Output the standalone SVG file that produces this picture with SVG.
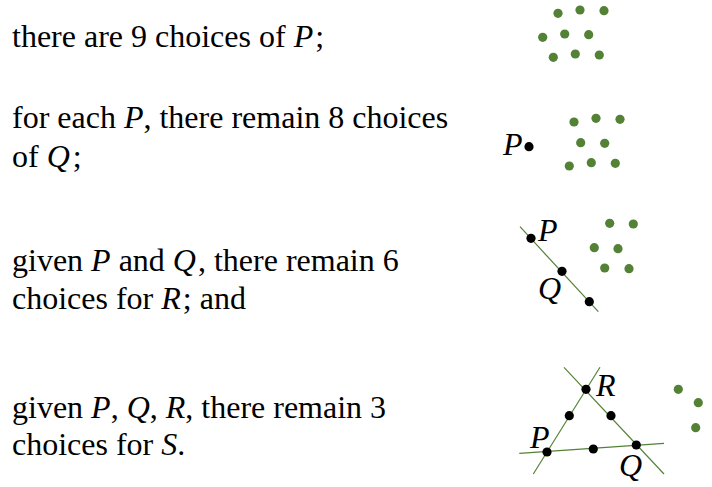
<svg xmlns="http://www.w3.org/2000/svg" width="712" height="487" viewBox="0 0 712 487">
<style>
.t{font-family:"Liberation Serif","Times New Roman",serif;font-size:32px;fill:#000}
.m{font-style:italic}
.lbl{font-family:"Liberation Serif","Times New Roman",serif;font-style:italic;font-size:32px;fill:#000}
.g{fill:#538135}
.b{fill:#000}
.ln{stroke:#538135;stroke-width:1.2;fill:none}
</style>
<rect width="712" height="487" fill="#fff"/>
<g id="text">
<text class="t" x="12" y="47">there are 9 choices of <tspan class="m">P</tspan><tspan dx="2">;</tspan></text>
<text class="t" x="12" y="128">for each <tspan class="m">P</tspan>, there remain 8 choices</text>
<text class="t" x="12" y="167">of <tspan class="m">Q</tspan><tspan dx="3">;</tspan></text>
<text class="t" x="12" y="271">given <tspan class="m">P</tspan> and <tspan class="m">Q</tspan><tspan dx="2">, there remain 6</tspan></text>
<text class="t" x="12" y="309">choices for <tspan class="m">R</tspan><tspan dx="2">; and</tspan></text>
<text class="t" x="12" y="418">given <tspan class="m">P</tspan>, <tspan class="m">Q</tspan>, <tspan class="m">R</tspan>, there remain 3</text>
<text class="t" x="12" y="455">choices for <tspan class="m">S</tspan>.</text>
</g>
<g id="panel1">
<circle class="g" cx="558" cy="13.3" r="4.6"/>
<circle class="g" cx="580" cy="10" r="4.6"/>
<circle class="g" cx="604" cy="10.7" r="4.6"/>
<circle class="g" cx="542.7" cy="37.3" r="4.6"/>
<circle class="g" cx="564.7" cy="34" r="4.6"/>
<circle class="g" cx="588.7" cy="34.7" r="4.6"/>
<circle class="g" cx="553.3" cy="57.3" r="4.6"/>
<circle class="g" cx="575.3" cy="54" r="4.6"/>
<circle class="g" cx="599.3" cy="55" r="4.6"/>
</g>
<g id="panel2">
<circle class="b" cx="529" cy="146.7" r="4.6"/>
<text class="lbl" x="503" y="155">P</text>
<circle class="g" cx="574" cy="122" r="4.6"/>
<circle class="g" cx="596" cy="118.3" r="4.6"/>
<circle class="g" cx="620" cy="119.3" r="4.6"/>
<circle class="g" cx="580.7" cy="142.7" r="4.6"/>
<circle class="g" cx="604.7" cy="143.3" r="4.6"/>
<circle class="g" cx="569.3" cy="166" r="4.6"/>
<circle class="g" cx="591.3" cy="162.7" r="4.6"/>
<circle class="g" cx="615.3" cy="163.3" r="4.6"/>
</g>
<g id="panel3">
<line class="ln" x1="520" y1="226.7" x2="598.3" y2="311.7"/>
<circle class="b" cx="531" cy="238.3" r="4.6"/>
<circle class="b" cx="562" cy="271.3" r="4.6"/>
<circle class="b" cx="589.3" cy="301.7" r="4.6"/>
<text class="lbl" x="538" y="241">P</text>
<text class="lbl" x="538" y="299">Q</text>
<circle class="g" cx="609.7" cy="223.3" r="4.6"/>
<circle class="g" cx="633.3" cy="224" r="4.6"/>
<circle class="g" cx="594.3" cy="247.7" r="4.6"/>
<circle class="g" cx="618" cy="248.7" r="4.6"/>
<circle class="g" cx="604.7" cy="268" r="4.6"/>
<circle class="g" cx="629" cy="268.7" r="4.6"/>
</g>
<g id="panel4">
<line class="ln" x1="533.3" y1="474" x2="600" y2="367.3"/>
<line class="ln" x1="564" y1="367.3" x2="664" y2="474"/>
<line class="ln" x1="519.3" y1="453.3" x2="664" y2="443.3"/>
<circle class="b" cx="586" cy="389.3" r="4.6"/>
<circle class="b" cx="569.3" cy="415.7" r="4.6"/>
<circle class="b" cx="611" cy="415.7" r="4.6"/>
<circle class="b" cx="547" cy="452" r="4.6"/>
<circle class="b" cx="593.3" cy="449" r="4.6"/>
<circle class="b" cx="636.3" cy="445" r="4.6"/>
<text class="lbl" x="596" y="396">R</text>
<text class="lbl" x="530" y="448">P</text>
<text class="lbl" x="619" y="476">Q</text>
<circle class="g" cx="678.3" cy="389.3" r="4.6"/>
<circle class="g" cx="698.3" cy="402.7" r="4.6"/>
<circle class="g" cx="695.7" cy="427.7" r="4.6"/>
</g>
</svg>
